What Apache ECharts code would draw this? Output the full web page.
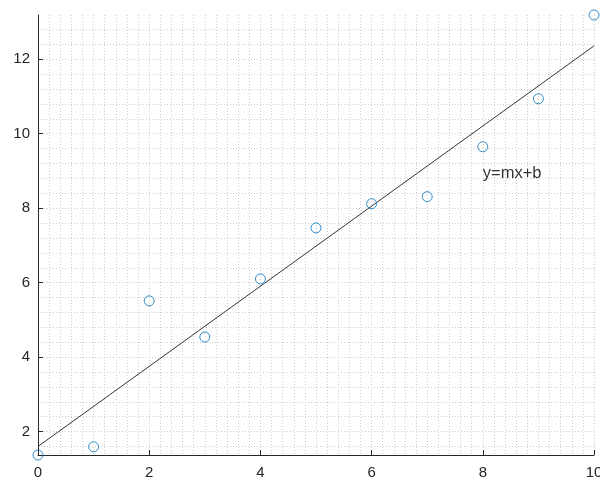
<!DOCTYPE html>
<html><head><meta charset="utf-8">
<script src="https://cdn.jsdelivr.net/npm/echarts@6/dist/echarts.min.js"></script>
<style>html,body{margin:0;padding:0;background:#fff}#c{width:600px;height:481px}</style>
</head><body><div id="c"></div>
<script>
const xValues = [0,1,2,3,4,5,6,7,8,9,10];
const yValues = [1.37,1.59,5.51,4.54,6.10,7.47,8.12,8.31,9.65,10.94,13.19];
const fitX = [0,10];
const fitY = [1.6,12.36];
const yTicks = [2,4,6,8,10,12];
const xTicks = [0,2,4,6,8,10];
const annotation = {x: 8, y: 8.92, text: 'y=mx+b'};
const yMin = 1.37, yMax = 13.19;

const yGrid = [];
for (let v = 1.6; v <= 13.0; v += 0.4) yGrid.push(+v.toFixed(1));

const axisColor = '#262626';
const gridColor = '#cccccc';
const gridDash = [1, 2];
const font = 'Arial, "Liberation Sans", Helvetica, sans-serif';

const chart = echarts.init(document.getElementById('c'));
chart.setOption({
  animation: false,
  grid: {left: 38, right: 6, top: 15, bottom: 26, containLabel: false, outerBoundsMode: 'none'},
  xAxis: {
    type: 'value', min: 0, max: 10, interval: 2,
    axisLine: {show: true, onZero: false, lineStyle: {color: axisColor, width: 1}},
    axisTick: {show: true, inside: true, length: 5, lineStyle: {color: axisColor}},
    axisLabel: {color: axisColor, fontSize: 15, fontFamily: font, margin: 10,
      formatter: v => xTicks.includes(v) ? String(v) : ''},
    splitLine: {show: true, lineStyle: {color: gridColor, type: gridDash, width: 1}},
    minorTick: {show: false, splitNumber: 10},
    minorSplitLine: {show: true, lineStyle: {color: gridColor, type: gridDash, width: 1}}
  },
  yAxis: [{
    type: 'value', min: yMin, max: yMax,
    axisLine: {show: true, onZero: false, lineStyle: {color: axisColor, width: 1}},
    axisTick: {show: true, inside: true, length: 5, customValues: yTicks, lineStyle: {color: axisColor}},
    axisLabel: {color: axisColor, fontSize: 15, fontFamily: font, margin: 8, customValues: yTicks},
    splitLine: {show: false}
  }, {
    type: 'value', min: yMin, max: yMax, position: 'left',
    axisLine: {show: false},
    axisTick: {show: false, customValues: yGrid},
    axisLabel: {show: false, customValues: yGrid},
    splitLine: {show: true, lineStyle: {color: gridColor, type: gridDash, width: 1}}
  }],
  series: [{
    type: 'line', yAxisIndex: 0,
    data: fitX.map((x, i) => [x, fitY[i]]),
    symbol: 'none', clip: false,
    lineStyle: {color: '#333333', width: 1}, z: 3
  }, {
    type: 'scatter', yAxisIndex: 0,
    data: xValues.map((x, i) => [x, yValues[i]]),
    symbol: 'circle', symbolSize: 10, clip: false,
    itemStyle: {color: 'rgba(0,0,0,0)', borderColor: '#0072BD', borderWidth: 1}, z: 4
  }, {
    type: 'scatter', yAxisIndex: 0,
    data: [[annotation.x, annotation.y]],
    symbolSize: 0, silent: true,
    label: {show: true, position: 'right', distance: 0, formatter: annotation.text,
      color: '#000', fontSize: 16.5, fontFamily: font}
  }]
});
</script></body></html>
